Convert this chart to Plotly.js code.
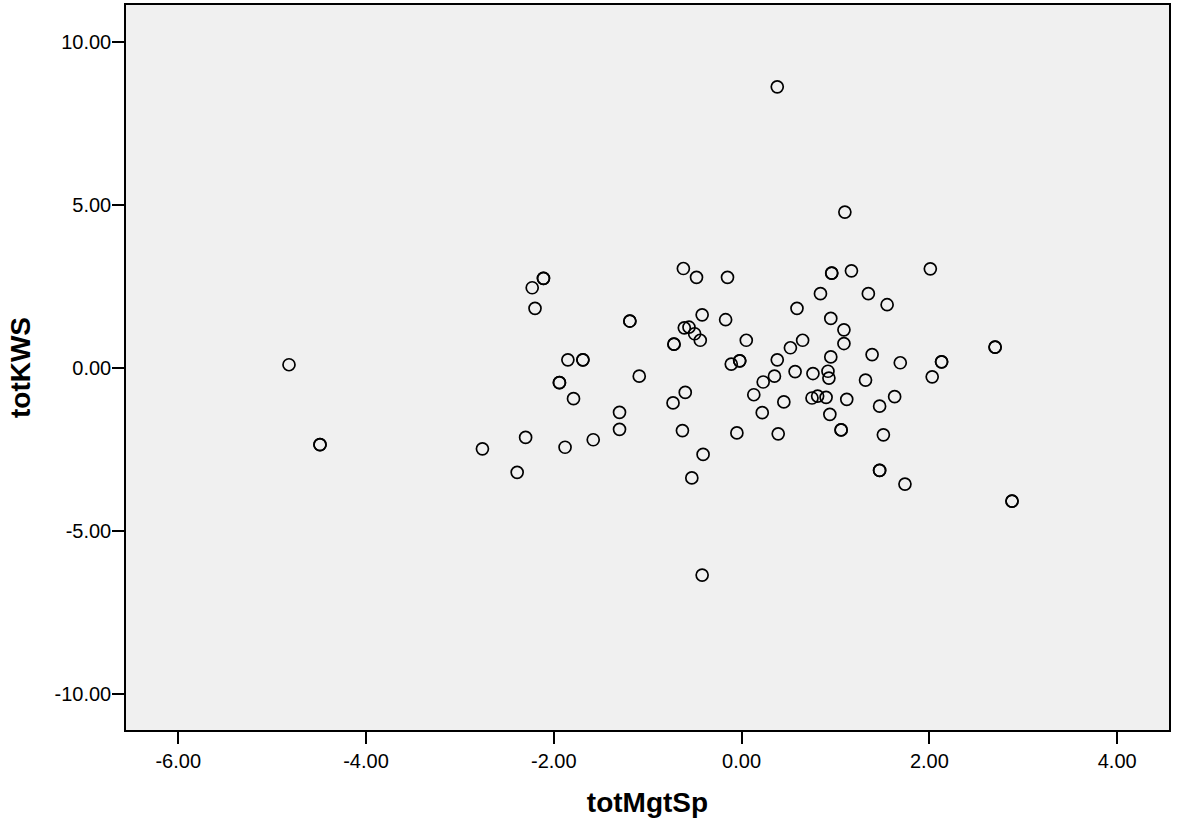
<!DOCTYPE html>
<html>
<head>
<meta charset="utf-8">
<script src="https://cdn.plot.ly/plotly-3.0.1.min.js"></script>
<style>
  html, body { margin: 0; padding: 0; background: #ffffff; }
  #chart { width: 1177px; height: 826px; }
</style>
</head>
<body>
<div id="chart"></div>
<script>
// Scatter of totKWS against totMgtSp (one entry per case; repeated pairs are coincident cases)
const totMgtSp = [
  -4.82, -4.49, -4.49, -2.76, -2.39, -2.30, -2.23, -2.20, -2.11, -2.11,
  -1.94, -1.94, -1.88, -1.85, -1.79, -1.69, -1.69, -1.58, -1.30, -1.30,
  -1.19, -1.19, -1.09, -0.73, -0.72, -0.72, -0.62, -0.63, -0.60, -0.61,
  -0.56, -0.53, -0.50, -0.48, -0.44, -0.42, -0.42, -0.41, -0.17, -0.15,
  -0.11, -0.05, -0.02, -0.02, 0.05, 0.13, 0.22, 0.23, 0.35, 0.38,
  0.38, 0.39, 0.45, 0.52, 0.59, 0.57, 0.65, 0.75, 0.76, 0.81,
  0.84, 0.90, 0.92, 0.93, 0.95, 0.94, 0.95, 0.96, 0.96, 1.06,
  1.06, 1.09, 1.09, 1.10, 1.12, 1.17, 1.32, 1.35, 1.39, 1.47,
  1.47, 1.47, 1.51, 1.55, 1.63, 1.69, 1.74, 2.01, 2.03, 2.13,
  2.13, 2.70, 2.70, 2.88, 2.88
];
const totKWS = [
  0.10, -2.35, -2.35, -2.48, -3.20, -2.13, 2.46, 1.83, 2.75, 2.75,
  -0.45, -0.45, -2.43, 0.25, -0.94, 0.25, 0.25, -2.20, -1.36, -1.88,
  1.44, 1.44, -0.25, -1.07, 0.73, 0.73, 3.05, -1.92, -0.75, 1.23,
  1.25, -3.37, 1.05, 2.78, 0.85, 1.63, -6.35, -2.65, 1.48, 2.78,
  0.12, -1.99, 0.22, 0.22, 0.85, -0.82, -1.37, -0.43, -0.25, 8.62,
  0.25, -2.02, -1.04, 0.62, 1.83, -0.11, 0.85, -0.92, -0.17, -0.86,
  2.28, -0.90, -0.10, -0.31, 1.52, -1.42, 0.34, 2.91, 2.91, -1.90,
  -1.90, 0.75, 1.17, 4.78, -0.96, 2.98, -0.37, 2.28, 0.41, -3.14,
  -3.14, -1.17, -2.05, 1.94, -0.88, 0.16, -3.56, 3.04, -0.27, 0.19,
  0.19, 0.64, 0.64, -4.08, -4.08
];

// Axis ticks and their printed labels (plain hyphen for negatives)
const xTicks = [-6, -4, -2, 0, 2, 4];
const xTickLabels = ['-6.00', '-4.00', '-2.00', '0.00', '2.00', '4.00'];
const yTicks = [-10, -5, 0, 5, 10];
const yTickLabels = ['-10.00', '-5.00', '0.00', '5.00', '10.00'];

const FONT = '"Liberation Sans", Arial, sans-serif';

const trace = {
  type: 'scatter',
  mode: 'markers',
  x: totMgtSp,
  y: totKWS,
  marker: {
    symbol: 'circle-open',
    size: 12,
    color: '#000000',
    line: { width: 1.7, color: '#000000' }
  },
  hoverinfo: 'x+y'
};

const axisCommon = {
  showgrid: false,
  zeroline: false,
  showline: true,
  mirror: true,
  linecolor: '#000000',
  linewidth: 1.5,
  ticks: 'outside',
  ticklen: 12,
  tickwidth: 1.5,
  tickcolor: '#000000',
  tickmode: 'array',
  tickfont: { family: FONT, size: 20, color: '#000000' }
};

const layout = {
  width: 1177,
  height: 826,
  margin: { l: 126, r: 8, t: 5, b: 96 },
  paper_bgcolor: '#ffffff',
  plot_bgcolor: '#f0f0f0',
  showlegend: false,
  xaxis: Object.assign({}, axisCommon, {
    range: [-6.556, 4.552],
    tickvals: xTicks,
    ticktext: xTickLabels,
    title: {
      text: 'totMgtSp',
      font: { family: FONT, size: 28, color: '#000000', weight: 'bold' },
      standoff: 22
    }
  }),
  yaxis: Object.assign({}, axisCommon, {
    range: [-11.10, 11.13],
    tickvals: yTicks,
    ticktext: yTickLabels,
    ticklabelstandoff: -3,
    title: {
      text: 'totKWS',
      font: { family: FONT, size: 28, color: '#000000', weight: 'bold' },
      standoff: 16
    }
  })
};

Plotly.newPlot('chart', [trace], layout, { displayModeBar: false, responsive: false });
</script>
</body>
</html>
